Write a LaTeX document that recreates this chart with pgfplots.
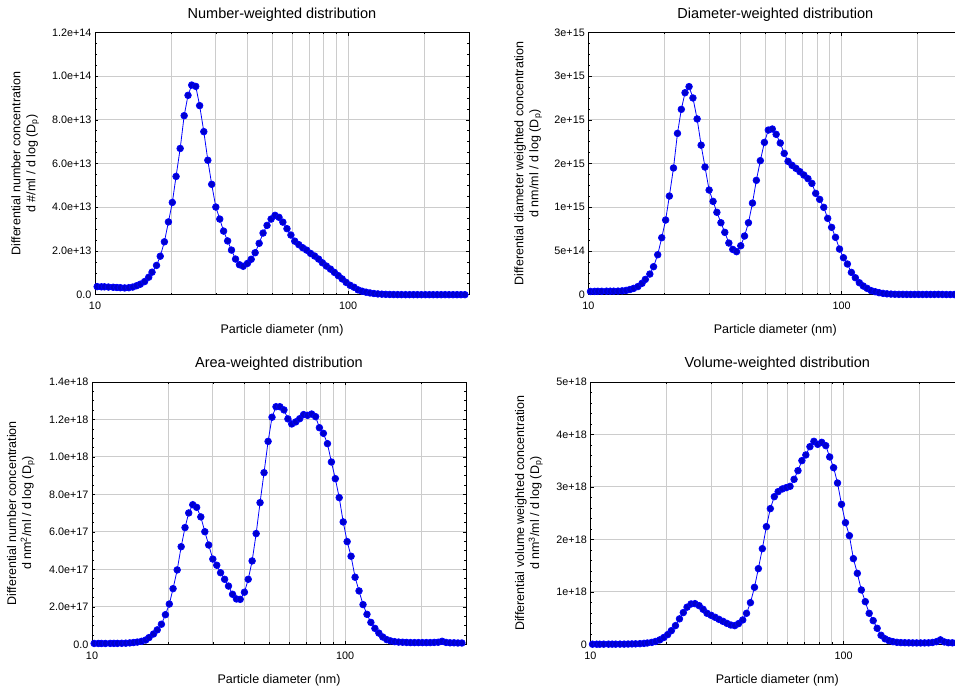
\documentclass[border=0pt]{standalone}
\usepackage{fontspec}
\setmainfont{Liberation Sans}
\usepackage{pgfplots}
\usepackage{pgfplotstable}
\pgfplotsset{compat=1.18}

% size distribution: diameter (nm), number, diameter, area and volume weighted
\pgfplotstableread{
Dp    N         D        A         V
10.2  0.37e13   0.37e14  0.045e17  0.02e17
10.6  0.36e13   0.38e14  0.045e17  0.02e17
10.9  0.36e13   0.39e14  0.045e17  0.02e17
11.3  0.35e13   0.39e14  0.045e17  0.025e17
11.8  0.34e13   0.40e14  0.05e17   0.03e17
12.2  0.33e13   0.40e14  0.05e17   0.03e17
12.6  0.32e13   0.40e14  0.05e17   0.03e17
13.1  0.31e13   0.41e14  0.055e17  0.035e17
13.6  0.32e13   0.44e14  0.06e17   0.04e17
14.1  0.35e13   0.49e14  0.075e17  0.05e17
14.6  0.41e13   0.59e14  0.095e17  0.07e17
15.1  0.48e13   0.72e14  0.12e17   0.09e17
15.7  0.60e13   0.93e14  0.16e17   0.12e17
16.3  0.80e13   1.30e14  0.23e17   0.18e17
16.8  1.03e13   1.75e14  0.36e17   0.25e17
17.5  1.34e13   2.36e14  0.55e17   0.37e17
18.1  1.76e13   3.20e14  0.77e17   0.54e17
18.8  2.42e13   4.57e14  1.07e17   0.84e17
19.5  3.33e13   6.52e14  1.58e17   1.29e17
20.2  4.22e13   8.54e14  2.15e17   1.84e17
20.9  5.41e13   11.28e14 2.97e17   2.60e17
21.7  6.69e13   14.49e14 3.97e17   3.56e17
22.5  8.19e13   18.45e14 5.21e17   4.85e17
23.3  9.12e13   21.2e14  6.23e17   6.05e17
24.1  9.59e13   23.1e14  7.01e17   7.08e17
25.0  9.53e13   23.8e14  7.45e17   7.69e17
25.9  8.65e13   22.5e14  7.31e17   7.75e17
26.9  7.46e13   20.1e14  6.80e17   7.37e17
27.9  6.15e13   17.1e14  6.01e17   6.67e17
28.9  5.05e13   14.6e14  5.30e17   5.91e17
30.0  4.01e13   11.97e14 4.55e17   5.53e17
31.1  3.46e13   10.67e14 4.22e17   5.15e17
32.2  2.91e13   9.42e14  3.82e17   4.76e17
33.4  2.46e13   8.23e14  3.47e17   4.38e17
34.6  2.04e13   7.13e14  3.11e17   4.00e17
35.9  1.63e13   5.91e14  2.67e17   3.68e17
37.2  1.37e13   5.18e14  2.42e17   3.56e17
38.5  1.30e13   4.92e14  2.40e17   3.94e17
40.0  1.43e13   5.60e14  2.78e17   4.64e17
41.4  1.62e13   6.71e14  3.47e17   5.91e17
42.9  1.92e13   8.23e14  4.45e17   7.94e17
44.5  2.35e13   10.48e14 5.91e17   10.86e17
46.1  2.82e13   13.08e14 7.56e17   14.42e17
47.8  3.17e13   15.33e14 9.16e17   18.23e17
49.6  3.46e13   17.42e14 10.83e17  22.43e17
51.4  3.63e13   18.83e14 12.12e17  25.86e17
53.3  3.54e13   18.95e14 12.68e17  28.14e17
55.2  3.32e13   18.34e14 12.68e17  29.10e17
57.3  3.02e13   17.35e14 12.51e17  29.61e17
59.4  2.73e13   16.16e14 12.03e17  29.86e17
61.5  2.45e13   15.25e14 11.76e17  30.11e17
63.8  2.29e13   14.79e14 11.87e17  31.45e17
66.1  2.15e13   14.45e14 12.04e17  33.10e17
68.5  2.04e13   14.07e14 12.26e17  35.01e17
71.0  1.89e13   13.69e14 12.22e17  36.09e17
73.7  1.77e13   13.27e14 12.29e17  37.67e17
76.4  1.63e13   12.73e14 12.15e17  38.69e17
79.1  1.46e13   11.59e14 11.56e17  38.12e17
82.0  1.31e13   10.90e14 11.26e17  38.50e17
85.1  1.17e13   9.99e14  10.71e17  37.87e17
88.2  1.02e13   8.73e14  9.73e17   35.71e17
91.4  0.87e13   7.70e14  8.84e17   33.67e17
94.7  0.72e13   6.56e14  7.83e17   30.75e17
98.2  0.56e13   5.22e14  6.53e17   26.68e17
101.8 0.43e13   4.23e14  5.48e17   23.19e17
105.5 0.34e13   3.51e14  4.70e17   20.71e17
109.4 0.22e13   2.55e14  3.58e17   16.33e17
113.4 0.16e13   1.94e14  2.85e17   13.53e17
117.6 0.115e13  1.37e14  2.12e17   10.36e17
121.9 0.08e13   0.99e14  1.60e17   8.13e17
126.3 0.055e13  0.72e14  1.17e17   5.91e17
131.0 0.035e13  0.46e14  0.85e17   4.51e17
135.8 0.024e13  0.34e14  0.60e17   3.05e17
140.7 0.016e13  0.23e14  0.39e17   1.72e17
145.9 0.010e13  0.15e14  0.25e17   1.05e17
151.2 0.007e13  0.10e14  0.18e17   0.70e17
156.8 0.004e13  0.07e14  0.14e17   0.50e17
162.5 0.003e13  0.05e14  0.12e17   0.38e17
168.5 0.002e13  0.04e14  0.11e17   0.32e17
174.7 0.002e13  0.04e14  0.10e17   0.30e17
181.1 0.002e13  0.03e14  0.09e17   0.28e17
187.7 0.001e13  0.03e14  0.09e17   0.27e17
194.6 0.001e13  0.03e14  0.09e17   0.26e17
201.7 0.001e13  0.03e14  0.09e17   0.26e17
209.1 0.001e13  0.03e14  0.09e17   0.27e17
216.7 0.001e13  0.03e14  0.09e17   0.28e17
224.7 0.001e13  0.03e14  0.10e17   0.35e17
232.9 0.001e13  0.03e14  0.11e17   0.50e17
241.4 0.002e13  0.04e14  0.16e17   0.85e17
250.3 0.001e13  0.03e14  0.10e17   0.45e17
259.5 0.001e13  0.02e14  0.08e17   0.30e17
269.0 0.001e13  0.02e14  0.08e17   0.28e17
278.8 0.001e13  0.02e14  0.07e17   0.27e17
289.0 0.001e13  0.02e14  0.07e17   0.27e17
}\psd

% common look of the four panels
\pgfplotsset{
  grid style={gray!40, line width=0.9pt},
  minor grid style={gray!40, line width=0.9pt},
  tick align=inside,
  major tick length=3.5pt, minor tick length=2pt,
  every tick/.style={black, line width=0.6pt},
  axis line style={black, line width=0.8pt},
  ticklabel style={font=\fontsize{10.8}{13}\selectfont},
  xticklabel style={yshift=-4pt},
  scaled y ticks=false,
  label style={font=\fontsize{12.5}{15}\selectfont},
  title style={font=\fontsize{14.5}{17}\selectfont},
  every axis plot/.append style={blue, line width=0.8pt, mark=*, mark size=3.3pt,
    mark options={fill=blue, draw=blue}},
}
\pgfplotsset{/pgf/number format/assume math mode=true}

\begin{document}
\begin{tikzpicture}

% number weighted
\begin{axis}[at={(95pt,393.3pt)}, anchor=south west,
    scale only axis, width=374pt, height=262.3pt,
    xmode=log, xmin=10, xmax=300, ymin=0, clip=false,
    xtick={10,100}, xticklabels={10,100},
    minor xtick={20,30,40,50,60,70,80,90,200},
    xmajorgrids, xminorgrids, ymajorgrids,
    xlabel={Particle diameter (nm)},
    xlabel style={at={(axis description cs:0.5,0)}, anchor=center, yshift=-36pt},
    title style={at={(axis description cs:0.5,1)}, anchor=center, yshift=12pt},
    title={Number-weighted distribution},
    ymax=1.2e14, minor y tick num=3,
    ytick={0,2e13,4e13,6e13,8e13,1e14,1.2e14},
    yticklabels={0.0,2.0e+13,4.0e+13,6.0e+13,8.0e+13,1.0e+14,1.2e+14},
    ylabel={Differential number concentration\\d \#/ml / d log (D\textsubscript{p})},
    ylabel style={at={(axis description cs:-0.187,0.5)}, anchor=center, align=center}]
\addplot table[x=Dp, y=N] {\psd};
\end{axis}

% diameter weighted
\begin{axis}[at={(588.3pt,393.3pt)}, anchor=south west,
    scale only axis, width=374pt, height=262.3pt,
    xmode=log, xmin=10, xmax=300, ymin=0, clip=false,
    xtick={10,100}, xticklabels={10,100},
    minor xtick={20,30,40,50,60,70,80,90,200},
    xmajorgrids, xminorgrids, ymajorgrids,
    xlabel={Particle diameter (nm)},
    xlabel style={at={(axis description cs:0.5,0)}, anchor=center, yshift=-36pt},
    title style={at={(axis description cs:0.5,1)}, anchor=center, yshift=12pt},
    title={Diameter-weighted distribution},
    ymax=3e15, minor y tick num=3,
    ytick={0,5e14,1e15,1.5e15,2e15,2.5e15,3e15},
    yticklabels={0,5e+14,1e+15,2e+15,2e+15,3e+15,3e+15},
    ylabel={Differential diameter weighted concentration\\d nm/ml / d log (D\textsubscript{p})},
    ylabel style={at={(axis description cs:-0.161,0.5)}, anchor=center, align=center}]
\addplot table[x=Dp, y=D] {\psd};
\end{axis}

% area weighted
\begin{axis}[at={(92pt,43.7pt)}, anchor=south west,
    scale only axis, width=374pt, height=262.3pt,
    xmode=log, xmin=10, xmax=300, ymin=0, clip=false,
    xtick={10,100}, xticklabels={10,100},
    minor xtick={20,30,40,50,60,70,80,90,200},
    xmajorgrids, xminorgrids, ymajorgrids,
    xlabel={Particle diameter (nm)},
    xlabel style={at={(axis description cs:0.5,0)}, anchor=center, yshift=-36pt},
    title style={at={(axis description cs:0.5,1)}, anchor=center, yshift=12pt},
    title={Area-weighted distribution},
    ymax=1.4e18, minor y tick num=3,
    ytick={0,2e17,4e17,6e17,8e17,1e18,1.2e18,1.4e18},
    yticklabels={0.0,2.0e+17,4.0e+17,6.0e+17,8.0e+17,1.0e+18,1.2e+18,1.4e+18},
    ylabel={Differential number concentration\\d nm\textsuperscript{2}/ml / d log (D\textsubscript{p})},
    ylabel style={at={(axis description cs:-0.190,0.5)}, anchor=center, align=center}]
\addplot table[x=Dp, y=A] {\psd};
\end{axis}

% volume weighted
\begin{axis}[at={(590.3pt,43.7pt)}, anchor=south west,
    scale only axis, width=374pt, height=262.3pt,
    xmode=log, xmin=10, xmax=300, ymin=0, clip=false,
    xtick={10,100}, xticklabels={10,100},
    minor xtick={20,30,40,50,60,70,80,90,200},
    xmajorgrids, xminorgrids, ymajorgrids,
    xlabel={Particle diameter (nm)},
    xlabel style={at={(axis description cs:0.5,0)}, anchor=center, yshift=-36pt},
    title style={at={(axis description cs:0.5,1)}, anchor=center, yshift=12pt},
    title={Volume-weighted distribution},
    ymax=5e18, minor y tick num=4,
    ytick={0,1e18,2e18,3e18,4e18,5e18},
    yticklabels={0,1e+18,2e+18,3e+18,4e+18,5e+18},
    ylabel={Differential volume weighted concentration\\d nm\textsuperscript{3}/ml / d log (D\textsubscript{p})},
    ylabel style={at={(axis description cs:-0.164,0.5)}, anchor=center, align=center}]
\addplot table[x=Dp, y=V] {\psd};
\end{axis}

\pgfresetboundingbox
\path[use as bounding box] (0,0) rectangle (955pt,688pt);
\end{tikzpicture}
\end{document}
